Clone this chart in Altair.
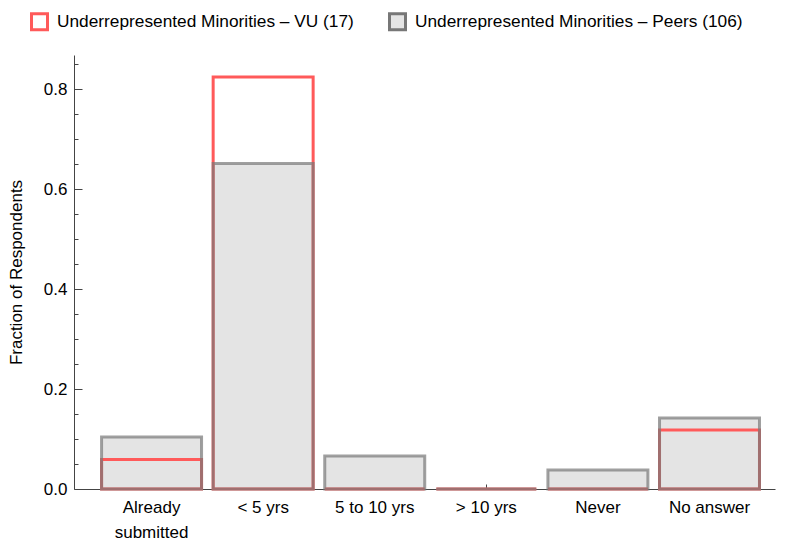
import altair as alt
import pandas as pd

categories = ["Already submitted", "< 5 yrs", "5 to 10 yrs", "> 10 yrs", "Never", "No answer"]
vu_values = [0.059, 0.824, 0.0, 0.0, 0.0, 0.118]
peers_values = [0.104, 0.651, 0.066, 0.0, 0.038, 0.142]
S_VU = "Underrepresented Minorities – VU (17)"
S_P = "Underrepresented Minorities – Peers (106)"
series_domain = [S_VU, S_P]
y_tick_values = [round(i * 0.05, 2) for i in range(18)]

df = pd.DataFrame({
    "category": categories * 2,
    "value": vu_values + peers_values,
    "series": [S_VU] * len(categories) + [S_P] * len(categories),
})

FONT = "Liberation Sans"
FS = 17

x = alt.X(
    "category:N", sort=categories,
    scale=alt.Scale(paddingInner=0.104, paddingOuter=0.193, align=0.64),
    axis=alt.Axis(
        title=None, labelAngle=0, labelFont=FONT, labelFontSize=FS, labelColor="black",
        labelExpr="datum.label == 'Already submitted' ? ['Already', 'submitted'] : datum.label",
        labelLineHeight=25, labelPadding=15, tickSize={"expr": "-5"},
        domainColor="#444", tickColor="#444", grid=False, labelBaseline="top",
    ),
)
y = alt.Y(
    "value:Q",
    scale=alt.Scale(domain=[0, 0.868], nice=False, zero=True),
    axis=alt.Axis(
        title="Fraction of Respondents", titleFont=FONT, titleFontSize=FS,
        titleFontWeight="normal", titleColor="black", titlePadding=18,
        values=y_tick_values,
        labelExpr="round(datum.value*100) % 20 == 0 ? format(datum.value, '.1f') : ''",
        labelFont=FONT, labelFontSize=FS, labelColor="black",
        tickSize={"expr": "round(datum.value*100) % 20 == 0 ? -8 : -4"},
        labelPadding=15, domainColor="#444", tickColor="#444", grid=False,
    ),
)

legend = alt.Legend(title=None)
base = alt.Chart(df).encode(x=x, y=y)

fill_layer = base.transform_filter(alt.datum.series == S_P).mark_bar(strokeWidth=0).encode(
    fill=alt.Fill("series:N", scale=alt.Scale(domain=series_domain, range=["white", "#e4e4e4"]), legend=legend)
)
vu_layer = base.transform_filter(alt.datum.series == S_VU).mark_bar(filled=False, strokeWidth=3).encode(
    stroke=alt.Stroke("series:N", scale=alt.Scale(domain=series_domain, range=["#ff5a5a", "#777777"]), legend=legend)
)
peer_layer = base.transform_filter(alt.datum.series == S_P).mark_bar(filled=False, strokeWidth=3, strokeOpacity=0.7).encode(
    stroke=alt.Stroke("series:N", scale=alt.Scale(domain=series_domain, range=["#ff5a5a", "#777777"]), legend=legend)
)

chart = alt.layer(fill_layer, vu_layer, peer_layer).properties(
    width=701, height=434,
    autosize=alt.AutoSizeParams(type="none"),
    padding={"left": 66, "top": 47, "right": 2, "bottom": 53},
).configure_view(stroke=None).configure_legend(
    orient="none", legendX=-44, legendY=-43, direction="horizontal",
    symbolType="square", symbolSize=256, symbolStrokeWidth=3,
    labelFont=FONT, labelFontSize=17.3, labelColor="black", labelOffset=8,
    labelLimit=0, columnPadding=29, padding=0,
)

chart.save("out.html", embed_options={"renderer": "svg", "actions": False})
